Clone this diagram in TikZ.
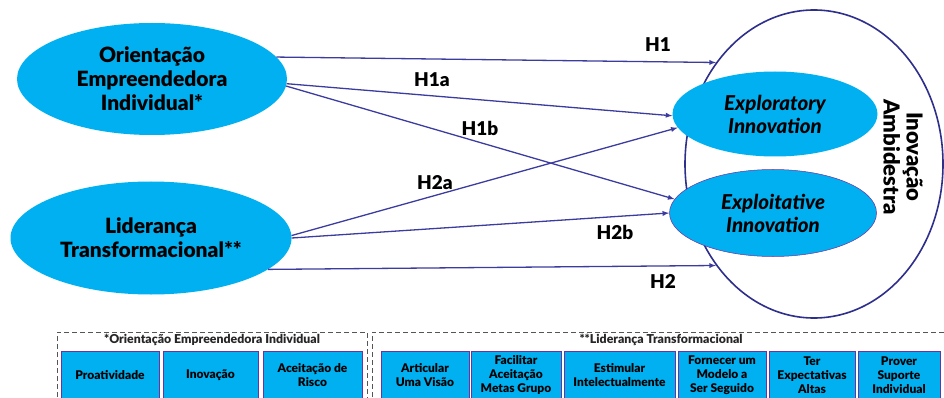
\documentclass[tikz,border=0pt]{standalone}
\usepackage{fontspec}
\setmainfont{Lato}[BoldFont={Lato Black}, ItalicFont={Lato Italic}, BoldItalicFont={Lato Black Italic}]
\usetikzlibrary{shapes.geometric}
\definecolor{cyanfill}{HTML}{00B0F0}
\definecolor{arrowblue}{HTML}{3C3CA0}
\definecolor{ringblue}{HTML}{2E2E8C}
\definecolor{boxpurple}{HTML}{7030A0}
\definecolor{dashgray}{HTML}{555555}
\tikzset{
  construct/.style={ellipse, fill=cyanfill, inner sep=0pt, align=center, font=\fontsize{21}{24}\selectfont\bfseries},
  innov/.style={ellipse, fill=cyanfill, inner sep=0pt, align=center, font=\fontsize{20.5}{23}\selectfont\bfseries\itshape},
  hyp/.style={-latex, arrowblue, line width=1.3pt},
  hlabel/.style={font=\fontsize{19}{20}\selectfont\bfseries},
  dimbox/.style={draw=boxpurple, fill=cyanfill, line width=0.6pt, inner sep=0pt, align=center, minimum height=48pt, font=\fontsize{12}{14}\selectfont\bfseries},
  grouptitle/.style={font=\fontsize{12.3}{13}\selectfont\bfseries, text=black!85},
  groupline/.style={draw=dashgray, dash pattern=on 5pt off 3pt, line width=0.8pt}
}
\begin{document}
\begin{tikzpicture}[x=1pt,y=-1pt]
\useasboundingbox (0,0) rectangle (944,398);
\clip (0,0) rectangle (944,398);

\node[ellipse, draw=ringblue, line width=1.6pt, minimum width=258pt, minimum height=308pt] (amb) at (814,164) {};
\node[rotate=-90, align=center, font=\fontsize{22}{23}\selectfont\bfseries] (ambtxt) at (903,157) {Inovação\\Ambidestra};

\node[construct, minimum width=270pt, minimum height=112pt] (oei) at (152,79) {Orientação\\Empreendedora\\Individual*};
\node[construct, minimum width=281pt, minimum height=113pt] (lt) at (151,238) {Liderança\\Transformacional**};
\node[innov, minimum width=205pt, minimum height=85pt] (expl) at (775,114) {Exploratory\\Innovation};
\node[innov, draw=boxpurple, line width=0.5pt, minimum width=207pt, minimum height=87pt] (explo) at (773,213) {Exploitative\\Innovation};

\draw[hyp] (oei.10) -- (amb.134);
\draw[hyp] (oei.-2) -- (expl.181);
\draw[hyp] (oei.-3) -- (explo.172);
\draw[hyp] (lt.1) -- (expl.188);
\draw[hyp] (lt.0) -- (explo.west);
\draw[hyp] (lt.-15) -- (amb.226);

\node[hlabel] (h1) at (658,45) {H1};
\node[hlabel] (h1a) at (432,80) {H1a};
\node[hlabel] (h1b) at (480,128) {H1b};
\node[hlabel] (h2a) at (435,183) {H2a};
\node[hlabel] (h2b) at (615,232) {H2b};
\node[hlabel] (h2) at (663,282) {H2};

\draw[groupline] (57,405) -- (57,332) -- (367,332) -- (367,405);
\draw[groupline] (372,405) -- (372,332) -- (950,332);
\node[grouptitle] (oeititle) at (212,340) {*Orientação Empreendedora Individual};
\node[grouptitle] (lttitle) at (661,340) {**Liderança Transformacional};

\foreach \x/\w/\t [count=\i] in {110/98/Proatividade, 210.5/95/Inovação, 312.5/99/{Aceitação de\\Risco}}
  \node[dimbox, minimum width=\w pt] (oe\i) at (\x,375) {\t};
\foreach \x/\w/\t [count=\i] in {425/88/{Articular\\Uma Visão}, 516/90/{Facilitar\\Aceitação\\Metas Grupo}, 619.5/111/{Estimular\\Intelectualmente}, 722/88/{Fornecer um\\Modelo a\\Ser Seguido}, 812/86/{Ter\\Expectativas\\Altas}, 899/82/{Prover\\Suporte\\Individual}}
  \node[dimbox, minimum width=\w pt] (tl\i) at (\x,375) {\t};
\end{tikzpicture}
\end{document}
